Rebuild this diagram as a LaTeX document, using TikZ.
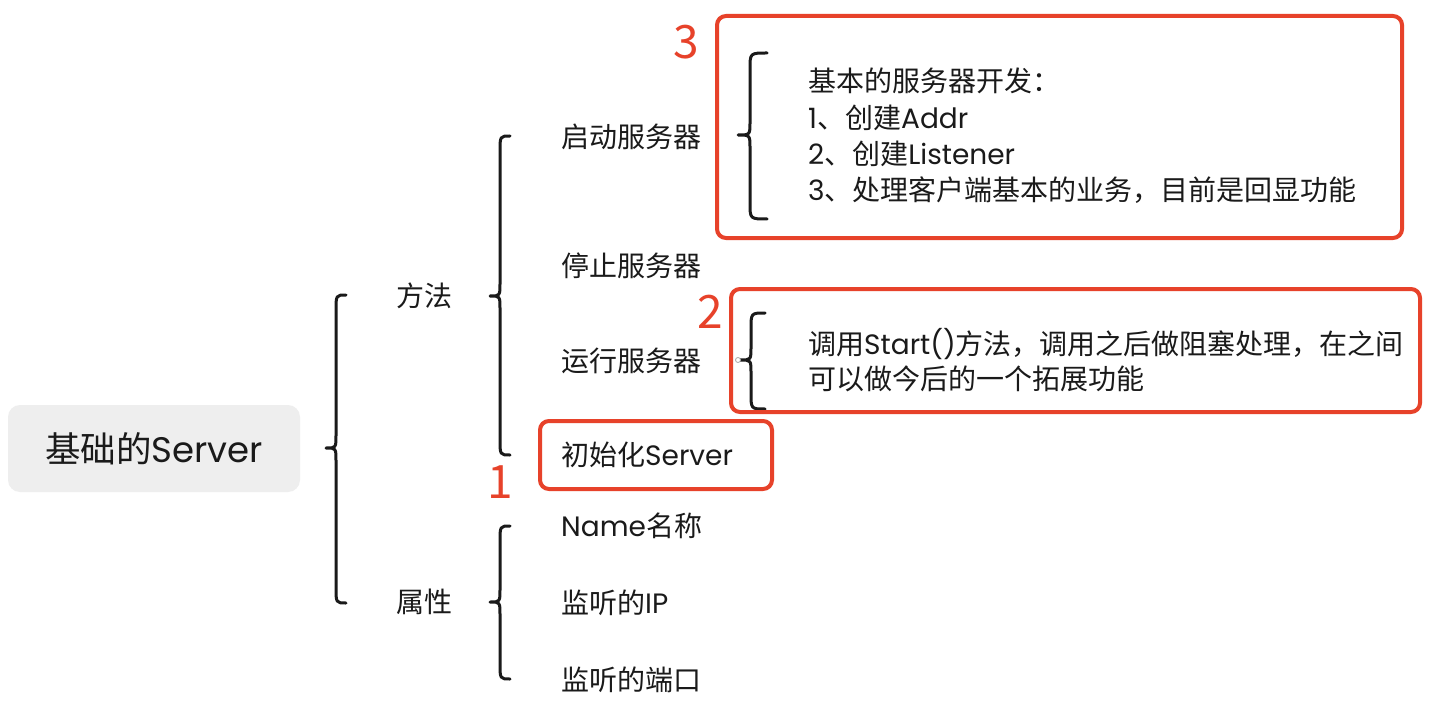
\documentclass[tikz,border=0pt]{standalone}
\usepackage{fontspec}
\setmainfont{Noto Sans CJK SC}
\newfontfamily\lat{Poppins}
\definecolor{mred}{RGB}{231,66,42}
\definecolor{rootgray}{RGB}{238,238,238}
\definecolor{txt}{RGB}{26,26,26}
\newcommand\xbrace[6]{% xe xl xt yt ym yb
  \draw[bracestyle] (#1,#4) .. controls (#2,#4) .. (#2,#4+16) -- (#2,#5-13)
    .. controls (#2,#5) .. (#3,#5) .. controls (#2,#5) .. (#2,#5+13)
    -- (#2,#6-16) .. controls (#2,#6) .. (#1,#6);}
\begin{document}
\begin{tikzpicture}[x=1pt,y=-1pt,
  bracestyle/.style={line width=3pt, draw=txt, line cap=round, line join=round},
  item/.style={anchor=west, inner sep=0pt, text=txt, font=\fontsize{28}{32}\selectfont},
  cat/.style={inner sep=0pt, text=txt, font=\fontsize{28}{32}\selectfont},
  note/.style={anchor=west, inner sep=0pt, text=txt, align=left},
  redbox/.style={draw=mred, line width=4pt, rounded corners=9pt, inner sep=0pt},
  num/.style={text=mred, inner sep=0pt, font=\fontsize{46}{50}\selectfont}]
\useasboundingbox (0,0) rectangle (1440,714);
\fill[white] (0,0) rectangle (1440,714);

% root
\node[fill=rootgray, rounded corners=12pt, minimum width=292pt, minimum height=87pt,
      text=txt, font=\fontsize{35.5}{40}\selectfont] (root) at (154,448.5) {基础的{\lat Server}};

% categories
\node[cat] (method) at (424,296) {方法};
\node[cat] (attr) at (424,602) {属性};

% items of method
\node[item] (start) at (561,137) {启动服务器};
\node[item] (stop) at (561,266) {停止服务器};
\node[item] (run) at (561,361) {运行服务器};
\node[item] (init) at (561,455) {初始化{\lat Server}};

% items of attr
\node[item] (name) at (561,526) {{\lat Name}名称};
\node[item] (ip) at (561,603) {监听的{\lat IP}};
\node[item] (port) at (561,680) {监听的端口};

% braces
\xbrace{346}{336}{326}{295}{448}{603}
\xbrace{510}{500}{490}{136}{296}{455}
\xbrace{510}{500}{490}{526}{602}{679}
\xbrace{767}{750}{738}{53}{135}{219}
\xbrace{765}{751}{740}{313}{360}{409}

% connector dot
\node[circle, draw=gray!70, fill=white, line width=0.8pt, inner sep=0pt, minimum size=5pt] (dot) at (738,360) {};

% notes
\node[note, font=\fontsize{28}{36.3}\selectfont] (note3) at (808,136)
  {基本的服务器开发：\\{\lat 1}、创建{\lat Addr}\\{\lat 2}、创建{\lat Listener}\\{\lat 3}、处理客户端基本的业务，目前是回显功能};
\node[note, font=\fontsize{28}{35}\selectfont] (note2) at (808,360.5)
  {调用{\lat Start()}方法，调用之后做阻塞处理，在之间\\可以做今后的一个拓展功能};

% red boxes
\node[redbox, minimum width=232pt, minimum height=68pt] (box1) at (656,455) {};
\node[redbox, minimum width=685pt, minimum height=222pt] (box3) at (1059.5,127) {};
\node[redbox, minimum width=689pt, minimum height=123pt] (box2) at (1075.5,350.5) {};

% numbers
\node[num] (n1) at (500,482) {1};
\node[num] (n2) at (710,312) {2};
\node[num] (n3) at (686,42) {3};
\end{tikzpicture}
\end{document}
